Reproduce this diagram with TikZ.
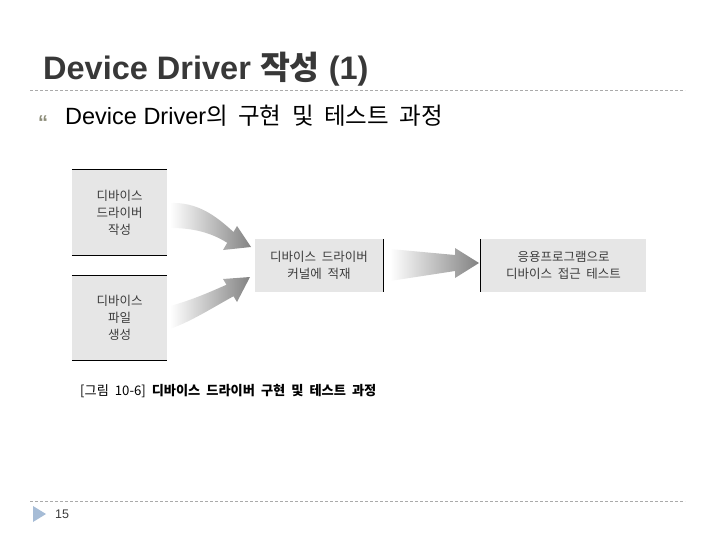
\documentclass[tikz,border=0pt]{standalone}
\usepackage{fontspec}
\setmainfont{Liberation Sans}
\newfontfamily\kr{Noto Sans CJK KR}
\newfontfamily\krw{Noto Sans CJK KR}[WordSpace=2]
\definecolor{titlegray}{RGB}{56,56,56}
\definecolor{boxgray}{RGB}{230,230,230}
\definecolor{boxtext}{RGB}{60,60,60}
\definecolor{arrowgray}{RGB}{130,130,130}
\definecolor{rulegray}{RGB}{170,170,170}
\definecolor{markblue}{RGB}{166,188,214}
\definecolor{bulletgray}{RGB}{140,140,120}
\tikzset{
  boxnode/.style={fill=boxgray, inner sep=0pt, align=center, text=boxtext,
    font=\krw\fontsize{12.5}{17}\selectfont},
  edgeline/.style={draw=black, line width=0.9pt},
  dashedrule/.style={draw=rulegray, line width=0.6pt, dash pattern=on 3pt off 2pt},
  fatarrow/.style={left color=white, right color=arrowgray},
}
\begin{document}
\begin{tikzpicture}[x=1pt,y=-1pt]
\useasboundingbox (0,0) rectangle (720,540);

% title
\node[anchor=base west, inner sep=0pt, text=titlegray,
  font=\fontsize{32.5}{35}\selectfont\bfseries] (title) at (43,80)
  {Device Driver {\kr\bfseries 작성} (1)};
\draw[dashedrule] (30,90) -- (685,90);

% bullet line
\node[anchor=base west, inner sep=0pt, text=bulletgray, font=\fontsize{20}{22}\selectfont\bfseries] (bullet) at (38,130) {“};
\node[anchor=base west, inner sep=0pt, font=\fontsize{23.5}{26}\selectfont] (sub) at (65,125)
  {Device Driver{\kr 의 구현 및 테스트 과정}};

% boxes
\node[boxnode, minimum width=95pt, minimum height=85pt] (b1) at (119.5,212.5)
  {디바이스\\드라이버\\작성};
\draw[edgeline] (b1.north west) -- (b1.north east);
\draw[edgeline] (b1.south west) -- (b1.south east);

\node[boxnode, minimum width=95pt, minimum height=84pt] (b2) at (119.5,318)
  {디바이스\\파일\\생성};
\draw[edgeline] (b2.north west) -- (b2.north east);
\draw[edgeline] (b2.south west) -- (b2.south east);

\node[boxnode, minimum width=128pt, minimum height=53pt] (m) at (319,265.5)
  {디바이스 드라이버\\커널에 적재};
\draw[edgeline] (m.north east) -- (m.south east);

\node[boxnode, minimum width=165pt, minimum height=53pt] (r) at (563.5,265.5)
  {응용프로그램으로\\디바이스 접근 테스트};
\draw[edgeline] (r.north west) -- (r.south west);

% fat gradient arrows
\shade[fatarrow] (170,203) .. controls (197,202) and (215,215) .. (233.5,232)
  -- (237,226) -- (251,247) -- (223,250) -- (227.2,242.8)
  .. controls (210,232) and (192,228) .. (170,228) -- cycle;
\shade[fatarrow] (170,306) .. controls (192,300) and (210,292) .. (226.5,284.75)
  -- (223,279) -- (250,277) -- (237,302) -- (233.5,296.25)
  .. controls (212,308) and (192,321) .. (170,329) -- cycle;
\shade[fatarrow] (390,249) -- (455,255) -- (455,248) -- (479,263) -- (455,278)
  -- (455,271) -- (390,281) -- cycle;

% caption
\node[anchor=west, inner sep=0pt, font=\krw\fontsize{13.2}{15}\selectfont] (cap) at (80,391)
  {[그림 10-6] {\bfseries 디바이스 드라이버 구현 및 테스트 과정}};

% footer
\draw[dashedrule] (30,501) -- (685,501);
\fill[markblue] (33,506) -- (46,514) -- (33,522) -- cycle;
\node[anchor=west, inner sep=0pt, text=boxtext, font=\fontsize{12.5}{14}\selectfont] (page) at (55,514) {15};
\end{tikzpicture}
\end{document}
